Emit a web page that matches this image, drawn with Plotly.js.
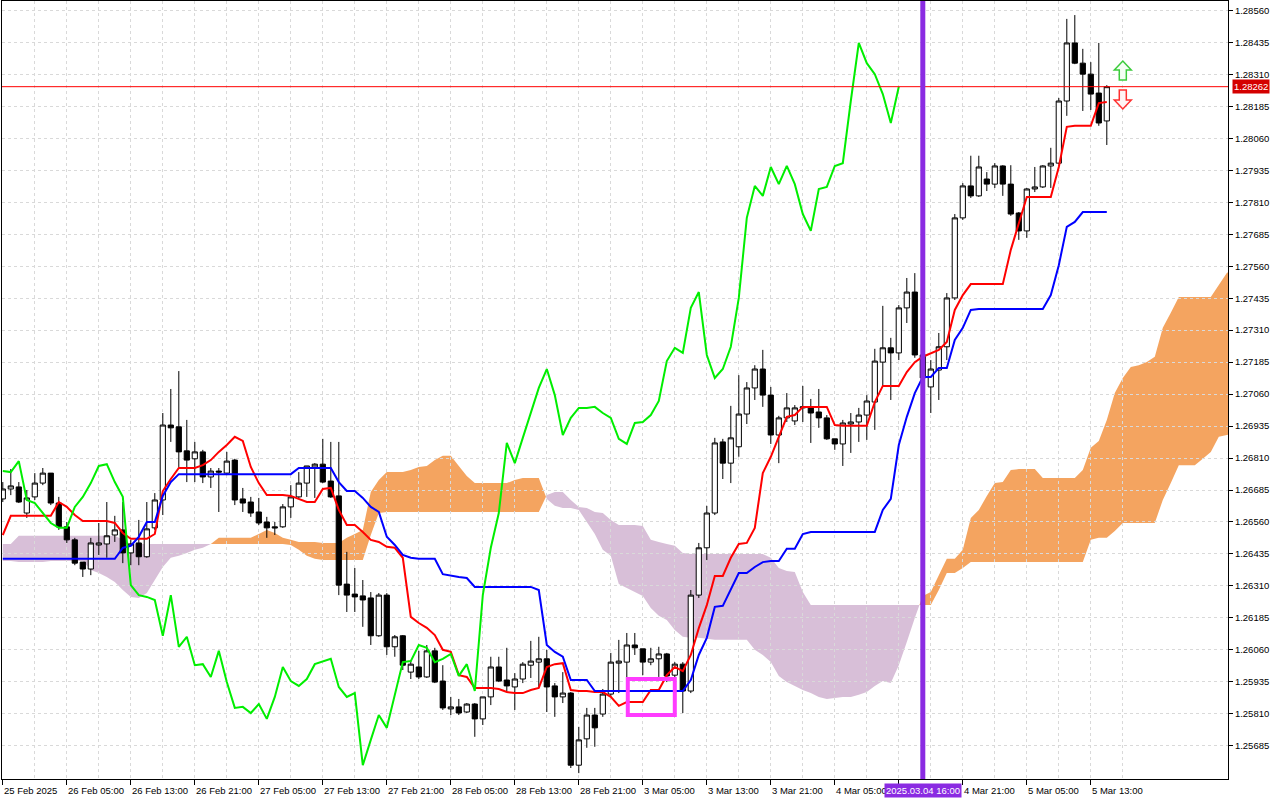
<!DOCTYPE html>
<html>
<head>
<meta charset="utf-8">
<script src="https://cdn.plot.ly/plotly-3.0.1.min.js"></script>
<style>
html,body{margin:0;padding:0;background:#ffffff;}
#chart{width:1280px;height:800px;}
</style>
</head>
<body>
<div id="chart"></div>
<script>
// ---------------- DATA (GBPUSD H1) ----------------
const timeLabels = ['25 Feb 2025','26 Feb 05:00','26 Feb 13:00','26 Feb 21:00','27 Feb 05:00','27 Feb 13:00',
  '27 Feb 21:00','28 Feb 05:00','28 Feb 13:00','28 Feb 21:00','3 Mar 05:00','3 Mar 13:00','3 Mar 21:00',
  '4 Mar 05:00','4 Mar 13:00','4 Mar 21:00','5 Mar 05:00','5 Mar 13:00'];
const markerLabel = '2025.03.04 16:00';

const priceTicks = [1.25685,1.25810,1.25935,1.26060,1.26185,1.26310,1.26435,1.26560,1.26685,1.26810,
  1.26935,1.27060,1.27185,1.27310,1.27435,1.27560,1.27685,1.27810,1.27935,1.28060,1.28185,1.28310,1.28435,1.28560];

const open = [
 1.26650,1.26689,1.26697,1.26595,1.26658,1.26712,1.26751,1.26634,1.26541,1.26490,
 1.26403,1.26376,1.26470,1.26474,1.26509,1.26529,1.26439,1.26478,1.26424,1.26537,
 1.26646,1.26939,1.26932,1.26838,1.26807,1.26834,1.26736,1.26759,1.26751,1.26802,
 1.26650,1.26638,1.26599,1.26560,1.26541,1.26541,1.26619,1.26658,1.26712,1.26775,
 1.26786,1.26720,1.26662,1.26317,1.26278,1.26271,1.26263,1.26115,1.26274,1.26072,
 1.26115,1.25973,1.25993,1.25954,1.26056,1.25938,1.25829,1.25837,1.25817,1.25848,
 1.25790,1.25876,1.25993,1.25942,1.25915,1.25946,1.26000,1.26012,1.26025,1.25919,
 1.25876,1.25891,1.25609,1.25712,1.25805,1.25809,1.25887,1.26008,1.26012,1.26079,
 1.26064,1.26012,1.26025,1.26044,1.25961,1.26004,1.25899,1.26274,1.26459,1.26595,
 1.26873,1.26790,1.26854,1.26982,1.27084,1.27158,1.27056,1.26900,1.26967,1.26955,
 1.27006,1.27010,1.26990,1.26967,1.26885,1.26865,1.26943,1.26951,1.26978,1.27029,
 1.27185,1.27241,1.27221,1.27397,1.27459,1.27213,1.27088,1.27154,1.27245,1.27436,
 1.27749,1.27874,1.27835,1.27901,1.27881,1.27952,1.27881,1.27768,1.27698,1.27862,
 1.27870,1.27952,1.27963,1.28206,1.28433,1.28354,1.28311,1.28237,1.28128];

const high = [
 1.26716,1.26767,1.26716,1.26685,1.26751,1.26771,1.26751,1.26658,1.26560,1.26498,
 1.26403,1.26498,1.26556,1.26638,1.26584,1.26638,1.26490,1.26568,1.26638,1.26673,
 1.26986,1.27080,1.27150,1.26959,1.26873,1.26842,1.26771,1.26771,1.26834,1.26807,
 1.26693,1.26658,1.26654,1.26580,1.26560,1.26630,1.26704,1.26755,1.26779,1.26790,
 1.26885,1.26873,1.26873,1.26443,1.26380,1.26333,1.26286,1.26282,1.26282,1.26118,
 1.26118,1.26020,1.26056,1.26079,1.26068,1.26000,1.25876,1.25868,1.25852,1.25852,
 1.25876,1.26033,1.26033,1.26068,1.25969,1.26012,1.26095,1.26111,1.26060,1.25930,
 1.25973,1.25895,1.25759,1.25833,1.25833,1.25907,1.26048,1.26099,1.26126,1.26126,
 1.26064,1.26068,1.26072,1.26048,1.26012,1.26012,1.26294,1.26478,1.26623,1.26889,
 1.26885,1.27014,1.27134,1.27107,1.27173,1.27233,1.27088,1.26975,1.27064,1.27017,
 1.27092,1.27041,1.27080,1.26978,1.26885,1.26959,1.26986,1.27006,1.27056,1.27237,
 1.27405,1.27280,1.27408,1.27514,1.27533,1.27252,1.27193,1.27299,1.27455,1.27764,
 1.27885,1.27992,1.27992,1.27928,1.27963,1.27955,1.27955,1.27772,1.27866,1.27948,
 1.27955,1.28023,1.28218,1.28527,1.28542,1.28410,1.28358,1.28433,1.28268];

const low = [
 1.26638,1.26665,1.26634,1.26576,1.26646,1.26704,1.26626,1.26529,1.26478,1.26391,
 1.26345,1.26352,1.26431,1.26420,1.26482,1.26399,1.26391,1.26391,1.26420,1.26529,
 1.26587,1.26873,1.26775,1.26716,1.26716,1.26712,1.26693,1.26599,1.26743,1.26626,
 1.26599,1.26580,1.26548,1.26498,1.26509,1.26537,1.26576,1.26654,1.26658,1.26654,
 1.26712,1.26654,1.26274,1.26208,1.26208,1.26150,1.26079,1.26111,1.26040,1.26033,
 1.25981,1.25946,1.25946,1.25950,1.25930,1.25825,1.25805,1.25805,1.25813,1.25720,
 1.25766,1.25844,1.25934,1.25895,1.25825,1.25930,1.25950,1.25915,1.25817,1.25798,
 1.25852,1.25598,1.25578,1.25677,1.25681,1.25798,1.25876,1.25891,1.25942,1.26040,
 1.25961,1.26000,1.25954,1.25934,1.25934,1.25813,1.25891,1.26263,1.26411,1.26587,
 1.26728,1.26712,1.26815,1.26943,1.27037,1.27010,1.26865,1.26790,1.26951,1.26939,
 1.26951,1.26869,1.26928,1.26881,1.26842,1.26779,1.26830,1.26873,1.26881,1.26920,
 1.27088,1.27037,1.27193,1.27338,1.27202,1.27076,1.26986,1.27037,1.27193,1.27428,
 1.27741,1.27827,1.27831,1.27854,1.27866,1.27835,1.27757,1.27663,1.27671,1.27850,
 1.27866,1.27866,1.27959,1.28148,1.28350,1.28167,1.28171,1.28109,1.28034];

const close = [
 1.26689,1.26701,1.26638,1.26654,1.26712,1.26751,1.26634,1.26541,1.26490,1.26399,
 1.26376,1.26478,1.26478,1.26506,1.26529,1.26439,1.26474,1.26424,1.26533,1.26646,
 1.26939,1.26928,1.26834,1.26802,1.26834,1.26736,1.26759,1.26755,1.26798,1.26646,
 1.26634,1.26595,1.26556,1.26537,1.26537,1.26619,1.26658,1.26712,1.26779,1.26786,
 1.26716,1.26658,1.26313,1.26274,1.26267,1.26255,1.26115,1.26274,1.26072,1.26111,
 1.26000,1.26004,1.25954,1.26056,1.25934,1.25833,1.25837,1.25813,1.25848,1.25790,
 1.25876,1.25993,1.25938,1.25919,1.25946,1.26004,1.26016,1.26025,1.25915,1.25876,
 1.25891,1.25609,1.25708,1.25805,1.25755,1.25887,1.26012,1.26016,1.26079,1.26068,
 1.26012,1.26025,1.26044,1.25958,1.26004,1.25899,1.26274,1.26459,1.26595,1.26869,
 1.26790,1.26889,1.26982,1.27084,1.27158,1.27056,1.26900,1.26967,1.27006,1.27006,
 1.27010,1.26986,1.26967,1.26885,1.26865,1.26947,1.26951,1.26978,1.27033,1.27189,
 1.27241,1.27221,1.27397,1.27459,1.27213,1.27123,1.27158,1.27245,1.27436,1.27749,
 1.27874,1.27835,1.27948,1.27881,1.27952,1.27881,1.27764,1.27698,1.27862,1.27870,
 1.27952,1.27963,1.28206,1.28433,1.28354,1.28311,1.28233,1.28120,1.28262];

// Tenkan-sen (red)
const tenkan = [
 1.26509,1.26584,1.26584,1.26584,1.26584,1.26584,1.26584,1.26638,1.26619,1.26587,
 1.26564,1.26564,1.26564,1.26564,1.26556,1.26517,1.26494,1.26494,1.26494,1.26513,
 1.26681,1.26728,1.26771,1.26771,1.26771,1.26782,1.26802,1.26834,1.26861,1.26893,
 1.26877,1.26775,1.26712,1.26665,1.26665,1.26665,1.26662,1.26650,1.26638,1.26638,
 1.26689,1.26693,1.26607,1.26548,1.26548,1.26521,1.26490,1.26482,1.26463,1.26459,
 1.26420,1.26189,1.26165,1.26146,1.26118,1.26060,1.26052,1.25961,1.25954,1.25911,
 1.25911,1.25911,1.25907,1.25895,1.25891,1.25891,1.25903,1.25911,1.25993,1.26004,
 1.26008,1.25903,1.25899,1.25899,1.25895,1.25895,1.25876,1.25841,1.25856,1.25856,
 1.25856,1.25903,1.25903,1.25961,1.25993,1.25977,1.26040,1.26145,1.26235,1.26349,
 1.26349,1.26420,1.26474,1.26478,1.26537,1.26751,1.26815,1.26893,1.26971,1.26978,
 1.27010,1.27010,1.27010,1.27010,1.26939,1.26936,1.26936,1.26936,1.26936,1.27029,
 1.27092,1.27092,1.27092,1.27146,1.27185,1.27206,1.27221,1.27233,1.27264,1.27389,
 1.27447,1.27490,1.27490,1.27490,1.27490,1.27490,1.27624,1.27729,1.27831,1.27831,
 1.27831,1.27831,1.27948,1.28105,1.28109,1.28109,1.28109,1.28198,1.28202];

// Kijun-sen (blue)
const kijun = [
 1.26416,1.26416,1.26416,1.26416,1.26416,1.26416,1.26416,1.26416,1.26416,1.26416,
 1.26416,1.26416,1.26416,1.26416,1.26416,1.26459,1.26467,1.26502,1.26560,1.26560,
 1.26662,1.26716,1.26747,1.26747,1.26747,1.26747,1.26747,1.26747,1.26747,1.26747,
 1.26747,1.26747,1.26747,1.26747,1.26747,1.26747,1.26747,1.26771,1.26771,1.26771,
 1.26771,1.26771,1.26716,1.26681,1.26681,1.26654,1.26619,1.26599,1.26502,1.26470,
 1.26431,1.26420,1.26416,1.26416,1.26416,1.26356,1.26349,1.26345,1.26341,1.26306,
 1.26306,1.26306,1.26306,1.26306,1.26306,1.26306,1.26306,1.26294,1.26079,1.26052,
 1.26033,1.25942,1.25942,1.25942,1.25899,1.25899,1.25899,1.25899,1.25899,1.25899,
 1.25899,1.25899,1.25899,1.25899,1.25899,1.25899,1.25942,1.26040,1.26107,1.26228,
 1.26232,1.26294,1.26360,1.26360,1.26384,1.26403,1.26407,1.26407,1.26455,1.26455,
 1.26513,1.26521,1.26521,1.26521,1.26521,1.26521,1.26521,1.26521,1.26521,1.26521,
 1.26607,1.26650,1.26861,1.26971,1.27064,1.27127,1.27127,1.27162,1.27162,1.27272,
 1.27319,1.27389,1.27393,1.27393,1.27393,1.27393,1.27393,1.27393,1.27393,1.27393,
 1.27393,1.27447,1.27564,1.27714,1.27733,1.27772,1.27772,1.27772,1.27772];

// Senkou Span A (already shifted 26 bars forward, bars 0..154)
const senkouA = [
 1.26407,1.26407,1.26403,1.26403,1.26403,1.26403,1.26407,1.26407,1.26407,1.26407,
 1.26407,1.26372,1.26360,1.26345,1.26325,1.26294,1.26267,1.26263,1.26282,1.26333,
 1.26384,1.26420,1.26428,1.26439,1.26451,1.26459,1.26474,1.26498,1.26498,1.26498,
 1.26498,1.26498,1.26513,1.26529,1.26517,1.26498,1.26490,1.26482,1.26482,1.26482,
 1.26478,1.26478,1.26478,1.26498,1.26513,1.26529,1.26677,1.26724,1.26755,1.26755,
 1.26755,1.26763,1.26775,1.26779,1.26802,1.26819,1.26819,1.26779,1.26740,1.26712,
 1.26712,1.26712,1.26712,1.26712,1.26724,1.26732,1.26732,1.26732,1.26650,1.26623,
 1.26615,1.26615,1.26607,1.26560,1.26513,1.26451,1.26428,1.26317,1.26302,1.26286,
 1.26271,1.26224,1.26193,1.26177,1.26138,1.26111,1.26107,1.26107,1.26103,1.26099,
 1.26099,1.26099,1.26099,1.26099,1.26060,1.26040,1.26012,1.25958,1.25934,1.25919,
 1.25903,1.25891,1.25876,1.25868,1.25872,1.25876,1.25876,1.25884,1.25895,1.25919,
 1.25938,1.25930,1.26000,1.26091,1.26185,1.26271,1.26286,1.26352,1.26416,1.26416,
 1.26451,1.26576,1.26607,1.26662,1.26712,1.26716,1.26763,1.26767,1.26767,1.26767,
 1.26732,1.26732,1.26732,1.26732,1.26732,1.26763,1.26850,1.26877,1.26959,1.27064,
 1.27123,1.27166,1.27173,1.27185,1.27206,1.27319,1.27378,1.27440,1.27440,1.27440,
 1.27440,1.27440,1.27487,1.27533,1.27553];

// Senkou Span B (already shifted 26 bars forward, bars 0..154)
const senkouB = [
 1.26474,1.26474,1.26506,1.26506,1.26506,1.26506,1.26506,1.26506,1.26506,1.26506,
 1.26506,1.26506,1.26506,1.26506,1.26506,1.26490,1.26474,1.26474,1.26474,1.26474,
 1.26474,1.26474,1.26474,1.26474,1.26474,1.26474,1.26474,1.26474,1.26474,1.26474,
 1.26474,1.26474,1.26474,1.26474,1.26474,1.26474,1.26470,1.26451,1.26428,1.26416,
 1.26411,1.26411,1.26411,1.26411,1.26411,1.26411,1.26509,1.26595,1.26599,1.26599,
 1.26599,1.26599,1.26599,1.26599,1.26599,1.26599,1.26599,1.26599,1.26599,1.26599,
 1.26599,1.26599,1.26599,1.26599,1.26599,1.26599,1.26599,1.26599,1.26665,1.26677,
 1.26677,1.26646,1.26619,1.26615,1.26599,1.26595,1.26568,1.26548,1.26548,1.26548,
 1.26544,1.26490,1.26482,1.26474,1.26467,1.26439,1.26435,1.26435,1.26435,1.26435,
 1.26435,1.26435,1.26435,1.26435,1.26435,1.26435,1.26420,1.26380,1.26368,1.26364,
 1.26286,1.26235,1.26235,1.26235,1.26235,1.26235,1.26235,1.26235,1.26235,1.26235,
 1.26235,1.26235,1.26235,1.26235,1.26235,1.26235,1.26235,1.26294,1.26360,1.26360,
 1.26380,1.26403,1.26403,1.26403,1.26403,1.26403,1.26403,1.26403,1.26403,1.26403,
 1.26403,1.26403,1.26403,1.26403,1.26403,1.26403,1.26490,1.26498,1.26498,1.26525,
 1.26556,1.26556,1.26556,1.26556,1.26556,1.26646,1.26712,1.26782,1.26782,1.26782,
 1.26807,1.26834,1.26893,1.26900,1.26904];

// ---------------- DERIVED ----------------
const barIndex = close.map((_, i) => i);
const cloudIndex = senkouA.map((_, i) => i);
const chikou = close.slice(26);                 // Chikou span = close shifted 26 bars back
const chikouIndex = barIndex.slice(0, chikou.length);
const bid = close[close.length - 1];
const tickBars = timeLabels.map((_, i) => i * 8);
const gridBars = tickBars.map(b => b + 4);

// ---------------- STYLE / POSITIONS ----------------
const FONT = 'Liberation Sans, Arial, sans-serif';
const GRID = '#d9d9d9';
const MARKER_BAR = 115;           // 2025.03.04 16:00
const BOX = {x0: 78.125, x1: 84.0, y0: 1.25805, y1: 1.25946};
const ARROW_BAR = 140;

function cloudPath(xs, a, b) {
  const runs = [];
  let cur = null;
  for (let i = 0; i < xs.length; i++) {
    const d = a[i] - b[i];
    if (cur && cur.sign * d < 0) {
      const dp = a[i - 1] - b[i - 1];
      const t = dp / (dp - d);
      const xc = xs[i - 1] + t * (xs[i] - xs[i - 1]);
      const yc = a[i - 1] + t * (a[i] - a[i - 1]);
      cur.A.push([xc, yc]); cur.B.push([xc, yc]);
      runs.push(cur);
      cur = {sign: d > 0 ? 1 : -1, A: [[xc, yc]], B: [[xc, yc]]};
    }
    if (!cur) cur = {sign: d >= 0 ? 1 : -1, A: [], B: []};
    cur.A.push([xs[i], a[i]]); cur.B.push([xs[i], b[i]]);
  }
  if (cur) runs.push(cur);
  const out = {up: '', dn: ''};
  runs.forEach(r => {
    const pts = r.A.concat(r.B.slice().reverse());
    const p = 'M' + pts.map(q => q[0].toFixed(4) + ',' + q[1].toFixed(6)).join('L') + 'Z';
    if (r.sign > 0) out.up += p; else out.dn += p;
  });
  return out;
}
const cloud = cloudPath(cloudIndex, senkouA, senkouB);

function arrowPath(cx, yTip, yBase) {
  const hw = 1.06, sw = 0.44;
  const dir = yTip > yBase ? 1 : -1;
  const hh = 0.00035 * dir;
  const yh = yTip - hh;
  const pts = [[cx, yTip], [cx + hw, yh], [cx + sw, yh], [cx + sw, yBase],
               [cx - sw, yBase], [cx - sw, yh], [cx - hw, yh]];
  return 'M' + pts.map(q => q[0].toFixed(3) + ',' + q[1].toFixed(6)).join('L') + 'Z';
}

const traces = [
  {
    type: 'candlestick', x: barIndex, open: open, high: high, low: low, close: close,
    increasing: {line: {color: '#000000', width: 1}, fillcolor: '#ffffff'},
    decreasing: {line: {color: '#000000', width: 1}, fillcolor: '#000000'},
    whiskerwidth: 0, hoverinfo: 'skip', showlegend: false
  },
  {type: 'scatter', mode: 'lines', x: barIndex, y: tenkan, line: {color: '#ff0000', width: 2}, hoverinfo: 'skip', showlegend: false},
  {type: 'scatter', mode: 'lines', x: barIndex, y: kijun, line: {color: '#0000ff', width: 2}, hoverinfo: 'skip', showlegend: false},
  {type: 'scatter', mode: 'lines', x: chikouIndex, y: chikou, line: {color: '#00ee00', width: 2}, hoverinfo: 'skip', showlegend: false}
];

const shapes = [
  {type: 'path', path: cloud.up, xref: 'x', yref: 'y', fillcolor: '#f4a460', line: {width: 0}, layer: 'below'},
  {type: 'path', path: cloud.dn, xref: 'x', yref: 'y', fillcolor: '#d8bfd8', line: {width: 0}, layer: 'below'},
  {type: 'line', xref: 'paper', x0: 0, x1: 1, yref: 'y', y0: bid, y1: bid, line: {color: '#ff0000', width: 1}},
  {type: 'line', xref: 'x', x0: MARKER_BAR, x1: MARKER_BAR, yref: 'paper', y0: 0, y1: 1, line: {color: '#8a2be2', width: 5}},
  {type: 'rect', xref: 'x', yref: 'y', x0: BOX.x0, x1: BOX.x1, y0: BOX.y0, y1: BOX.y1, line: {color: '#ff3cff', width: 4}},
  {type: 'path', xref: 'x', yref: 'y', path: arrowPath(ARROW_BAR, 1.28362, 1.28288), fillcolor: '#f4fff4', line: {color: '#3ccc3c', width: 1.5}},
  {type: 'path', xref: 'x', yref: 'y', path: arrowPath(ARROW_BAR, 1.28175, 1.28249), fillcolor: '#fff4f4', line: {color: '#ff3030', width: 1.5}}
];

// Time labels: left-aligned just right of their tick marks (as in the terminal)
const annotations = tickBars.map((b, i) => ({
  xref: 'x', x: b, xanchor: 'left', xshift: 0,
  yref: 'paper', y: 0, yanchor: 'top', yshift: -5,
  text: b === 112 ? '' : timeLabels[i], showarrow: false, borderpad: 0,
  font: {family: FONT, size: 9.5, color: '#000000'}
})).filter(a => a.text !== '');

annotations.push(
  {xref: 'paper', x: 1, xanchor: 'left', xshift: 4, yref: 'y', y: bid, yanchor: 'middle',
   text: bid.toFixed(5), showarrow: false, bgcolor: '#d40000', borderpad: 1,
   font: {family: FONT, size: 9.5, color: '#ffffff'}},
  {xref: 'x', x: MARKER_BAR, xanchor: 'center', yref: 'paper', y: 0, yanchor: 'top', yshift: -4,
   text: markerLabel, showarrow: false, bgcolor: '#8a2be2', borderpad: 1,
   font: {family: FONT, size: 9.5, color: '#ffffff'}}
);

const layout = {
  width: 1280, height: 800,
  margin: {l: 2, r: 52, t: 1, b: 21, pad: 0},
  paper_bgcolor: '#ffffff', plot_bgcolor: '#ffffff',
  font: {family: FONT, size: 9.5, color: '#000000'},
  showlegend: false,
  boxgap: 0.35, boxgroupgap: 0,
  xaxis: {
    type: 'linear', range: [-0.1, 153.15], fixedrange: true,
    tickmode: 'array', tickvals: tickBars, showticklabels: false,
    ticks: 'outside', ticklen: 5, tickcolor: '#000000', tickwidth: 1,
    showgrid: true, gridcolor: GRID, griddash: '3px,3px', gridwidth: 1,
    minor: {tickmode: 'array', tickvals: gridBars, showgrid: true, gridcolor: GRID, griddash: '3px,3px', ticks: ''},
    showline: true, linecolor: '#000000', linewidth: 1, mirror: true,
    zeroline: false, rangeslider: {visible: false}
  },
  yaxis: {
    side: 'right', range: [1.25555, 1.28597], fixedrange: true,
    tickmode: 'array', tickvals: priceTicks, ticktext: priceTicks.map(v => v.toFixed(5)),
    ticks: 'outside', ticklen: 4, tickcolor: '#000000',
    showgrid: true, gridcolor: GRID, griddash: '3px,3px', gridwidth: 1,
    showline: true, linecolor: '#000000', linewidth: 1, mirror: true,
    zeroline: false,
    tickfont: {family: FONT, size: 9.5, color: '#000000'}
  },
  shapes: shapes,
  annotations: annotations
};

Plotly.newPlot('chart', traces, layout, {staticPlot: true, displayModeBar: false});
</script>
</body>
</html>
